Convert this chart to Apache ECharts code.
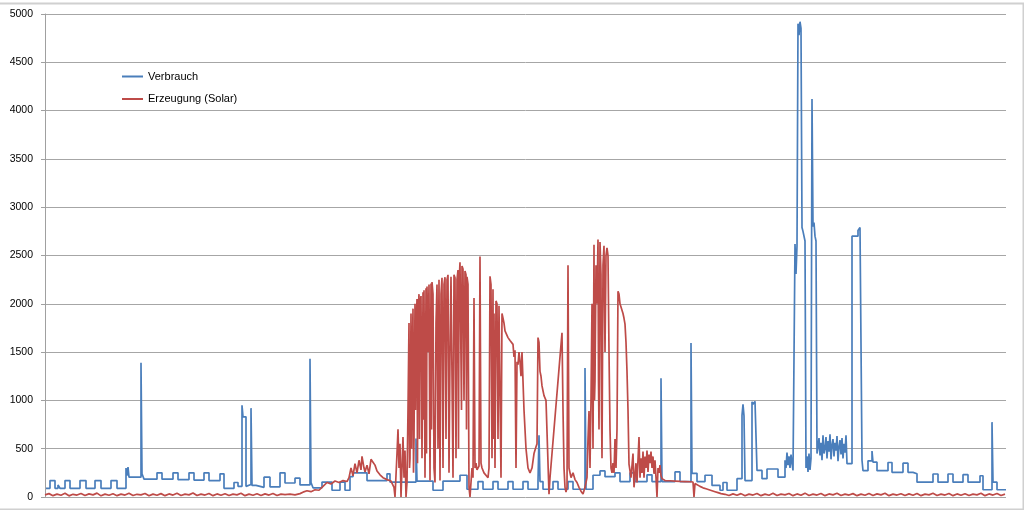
<!DOCTYPE html>
<html>
<head>
<meta charset="utf-8">
<script src="https://cdn.jsdelivr.net/npm/echarts@6/dist/echarts.min.js"></script>
<style>
html,body{margin:0;padding:0;background:#fff;}
#chart{width:1024px;height:510px;}
</style>
</head>
<body>
<div id="chart"></div>
<script>
// Sample index (time steps) along x; values in W
const seriesNames = ['Verbrauch', 'Erzeugung (Solar)'];
const yTicks = [0, 500, 1000, 1500, 2000, 2500, 3000, 3500, 4000, 4500, 5000];

// Verbrauch (step values: [sample, value])
const verbrauch = [
[1,90],[5,170],[10,90],[13,125],[15,90],[20,170],[25,90],[35,170],[41,90],[50,170],[56,90],[66,170],[72,90],
[81,300],[82,220],[83,310],[84,205],[96,1390],[97,240],[99,185],[112,250],[117,185],[128,250],[133,180],
[144,250],[149,175],[159,250],[164,170],[175,240],[179,90],[189,150],[193,110],[197,950],[198,830],[201,110],
[203,130],[206,920],[207,120],[211,100],[219,205],[225,105],[235,250],[240,145],[250,195],[255,125],[265,1430],
[266,150],[268,95],[277,155],[287,70],[295,155],[300,70],[305,210],[308,250],[322,170],[342,240],[345,155],
[371,605],[372,165],[388,70],[398,165],[415,225],[422,80],[433,160],[438,80],[448,160],[453,80],[463,160],
[468,80],[478,160],[483,80],[493,160],[494,640],[495,160],[498,80],[508,160],[513,80],[523,160],[528,80],
[540,1335],[541,80],[548,225],[555,270],[560,210],[570,250],[575,160],[585,250],[590,160],[602,230],[607,160],
[616,1230],[617,160],[630,260],[635,160],[646,1594],[647,245],[652,160],[660,225],[667,120],[675,70],[678,150],
[682,70],[692,190],[697,845],[698,960],[699,840],[700,170],[707,985],[708,960],[710,990],[712,275],[717,190],
[722,290],[733,205],[740,380],[741,300],[742,460],[743,330],[744,420],[745,300],[746,440],[747,350],[748,275],
[750,2620],[751,2310],[752,2600],[753,4900],[754,4780],[755,4920],[756,4850],[757,2790],[758,2750],[760,2650],
[761,300],[762,420],[763,260],[764,450],[765,280],[766,400],[767,4120],[768,2800],[769,2840],[770,2700],[771,2650],
[772,450],[773,520],[774,610],[775,430],[776,560],[777,380],[778,640],[779,450],[780,500],[781,620],[782,400],
[783,580],[784,470],[785,650],[786,390],[787,540],[788,600],[789,420],[790,560],[791,480],[792,630],[793,370],
[794,520],[795,590],[796,440],[797,610],[798,400],[799,550],[800,460],[801,640],[802,345],[807,2700],[813,2760],
[815,2790],[817,380],[818,272],[823,374],[827,476],[828,360],[832,272],[843,357],[847,255],[858,350],[863,255],
[868,240],[872,153],[888,238],[893,153],[903,238],[908,153],[918,231],[923,153],[935,220],[938,75],[947,775],
[948,153],[952,75],[961,75]
];

// Erzeugung (Solar): [sample, value]
const erzeugung = [
[0,22],[4,35],[8,14],[12,30],[16,18],[20,38],[24,12],[28,28],[32,20],[36,36],[40,15],[44,32],[48,22],[52,40],
[56,12],[60,30],[64,18],[68,34],[72,14],[76,30],[80,20],[84,38],[88,15],[92,28],[96,22],[100,36],[104,12],
[108,30],[112,18],[116,35],[120,14],[124,32],[128,20],[132,38],[136,16],[140,30],[144,22],[148,42],[152,15],
[156,30],[160,20],[164,36],[168,14],[172,32],[176,18],[180,34],[184,15],[188,30],[192,22],[196,38],[200,14],
[204,30],[208,18],[212,34],[216,16],[220,32],[224,20],[228,36],[232,15],[236,30],[240,25],
[245,30],[250,22],[255,35],[258,50],[262,65],[266,55],[270,75],[274,70],[278,110],[282,150],[286,135],[290,165],
[294,150],[298,170],[302,160],[304,200],[306,300],[308,220],[310,345],[312,250],[314,380],[316,280],[317,420],
[319,300],[320,260],[322,330],[324,240],[326,390],[328,360],[330,330],[332,270],[335,230],[338,200],[342,180],
[346,165],[348,160],[349,100],[350,0],[352,450],[353,700],[354,300],[355,550],[356,0],[358,620],[359,200],
[360,480],[361,0],[362,150],[363,900],[364,1800],[364.5,300],[365,400],[366,1900],[366.5,500],[367,1200],[368,1950],
[368.5,250],[369,600],[370,2000],[370.5,900],[371,1700],[372,2050],[372.5,350],[373,1900],[374,2100],[374.5,600],
[375,2000],[376,2080],[377,400],[378,2120],[378.5,800],[379,2140],[380,200],[381,2160],[381.5,450],[382,2180],
[383,1500],[384,2200],[385,170],[386,2210],[386.5,700],[387,2225],[388,2100],[389,300],[390,150],[391,1800],
[392,2200],[393,500],[394,2250],[395,170],[396,2100],[397,2270],[398,300],[399,2200],[400,2275],[401,600],
[402,2250],[403,2300],[404,250],[405,1500],[406,2280],[407,2300],[408,200],[409,2300],[410,2270],[411,400],
[412,2250],[413,2350],[413.5,500],[414,2200],[415,2430],[416,2410],[416.5,900],[417,2390],[418,2360],[419,1000],
[420,2340],[421,2300],[421.5,700],[422,2280],[423,2200],[424,100],[425,0],[426,150],[427,300],[428,200],[429,2060],
[430,300],[431,350],[432,280],[434,320],[435,2490],[436,350],[437,300],[439,250],[441,230],[443,200],[444,300],
[445,2285],[446,2200],[447,400],[448,2150],[448.5,600],[449,1900],[450,300],[451,2030],[452,2000],[453,600],
[454,1980],[455,1960],[456,200],[457,1900],[458,1850],[459,1800],[460,1720],[462,1700],[463,1650],[465,1620],
[467,1600],[468,1580],[469,1450],[470,1520],[471,300],[472,1400],[473,1370],[474,1500],[475,1400],[476,1250],
[477,1500],[479,900],[481,500],[483,300],[485,250],[487,300],[489,450],[491,520],[492,550],[493,1650],[494,1600],
[495,1300],[496,1250],[497,1150],[498,1100],[499,1050],[500,1030],[501,1000],[502,1010],[503,980],[504,30],
[505,200],[507,450],[509,700],[511,950],[513,1200],[515,1450],[517,1700],[518,900],[519,300],[520,100],[521,50],
[522,100],[523,2400],[524,300],[526,200],[528,250],[530,180],[532,150],[534,100],[536,60],[538,30],[540,100],
[542,200],[543,600],[544,890],[545,300],[546,1000],[547,2000],[548,500],[549,2610],[549.5,1000],[550,1200],
[551,2400],[552,2000],[553,2665],[553.5,1200],[554,700],[555,2640],[556,2300],[556.5,900],[557,400],[558,2400],
[559,2600],[560,1500],[561,2500],[562,2580],[563,2500],[564,1500],[565,700],[566,300],[567,250],[568,350],
[569,250],[570,600],[571,300],[572,700],[573,2130],[574,2100],[575,2000],[576,2020],[577,1990],[578,1900],
[579,1850],[580,1790],[581,1600],[582,1300],[583,900],[584,340],[586,200],[588,450],[589,100],[591,350],[592,150],
[594,620],[595,200],[596,400],[597,250],[598,470],[599,200],[600,420],[601,300],[602,480],[603,260],[604,440],
[605,350],[606,470],[607,300],[608,420],[609,240],[610,380],[611,200],[612,0],[613,300],[614,250],[615,330],
[616,220],[617,190],[620,170],[625,168],[630,165],[635,162],[640,160],[645,158],[648,155],[649,0],[650,140],
[652,120],[655,110],[658,95],[661,85],[664,75],[667,65],[670,55],[673,45],[676,35],
[680,28],[684,15],[688,32],[692,18],[696,35],[700,12],[704,30],[708,20],[712,36],[716,14],[720,30],[724,18],
[728,38],[732,15],[736,30],[740,22],[744,36],[748,14],[752,32],[756,18],[760,40],[764,16],[768,30],[772,20],
[776,36],[780,14],[784,32],[788,22],[792,38],[796,15],[800,30],[804,20],[808,35],[812,14],[816,30],[820,18],
[824,36],[828,15],[832,32],[836,22],[840,38],[844,14],[848,30],[852,20],[856,34],[860,15],[864,32],[868,18],
[872,36],[876,14],[880,30],[884,22],[888,38],[892,16],[896,30],[900,20],[904,36],[908,14],[912,32],[916,18],
[920,34],[924,15],[928,30],[932,22],[936,38],[940,14],[944,32],[948,20],[952,36],[956,16],[960,30]
];

const chart = echarts.init(document.getElementById('chart'), null, {renderer: 'canvas'});
const FONT = '"Liberation Sans", Arial, sans-serif';
chart.setOption({
  animation: false,
  backgroundColor: '#ffffff',
  grid: {left: 45, right: 18, top: 14, bottom: 13, containLabel: false},
  legend: {
    data: seriesNames,
    orient: 'vertical',
    left: 122,
    top: 71,
    padding: 0,
    icon: 'rect',
    itemWidth: 21,
    itemHeight: 2,
    itemGap: 11.5,
    textStyle: {fontFamily: FONT, fontSize: 11, color: '#000'}
  },
  xAxis: {
    type: 'value', min: 0, max: 961,
    axisLine: {show: false}, axisTick: {show: false}, axisLabel: {show: false}, splitLine: {show: false}
  },
  yAxis: {
    type: 'value', min: yTicks[0], max: yTicks[yTicks.length - 1], interval: 500,
    axisLine: {show: true, lineStyle: {color: '#a0a0a0', width: 1}},
    axisTick: {show: true, length: 4, lineStyle: {color: '#a0a0a0'}},
    axisLabel: {fontFamily: FONT, fontSize: 10.5, color: '#000', margin: 12, formatter: (v) => String(v)},
    splitLine: {show: true, lineStyle: {color: '#a6a6a6', width: 1}}
  },
  graphic: [{
    type: 'rect', left: -6, top: 1, shape: {width: 1027, height: 506},
    style: {fill: 'none', stroke: '#d0d0d0', lineWidth: 2}, silent: true, z: -1
  }],
  series: [
    {name: seriesNames[0], type: 'line', data: verbrauch, step: 'end', symbol: 'none',
     lineStyle: {color: '#4a7ebb', width: 1.7}, itemStyle: {color: '#4a7ebb'}, z: 2},
    {name: seriesNames[1], type: 'line', data: erzeugung, symbol: 'none',
     lineStyle: {color: '#be4b48', width: 1.7}, itemStyle: {color: '#be4b48'}, z: 3}
  ]
});
</script>
</body>
</html>
